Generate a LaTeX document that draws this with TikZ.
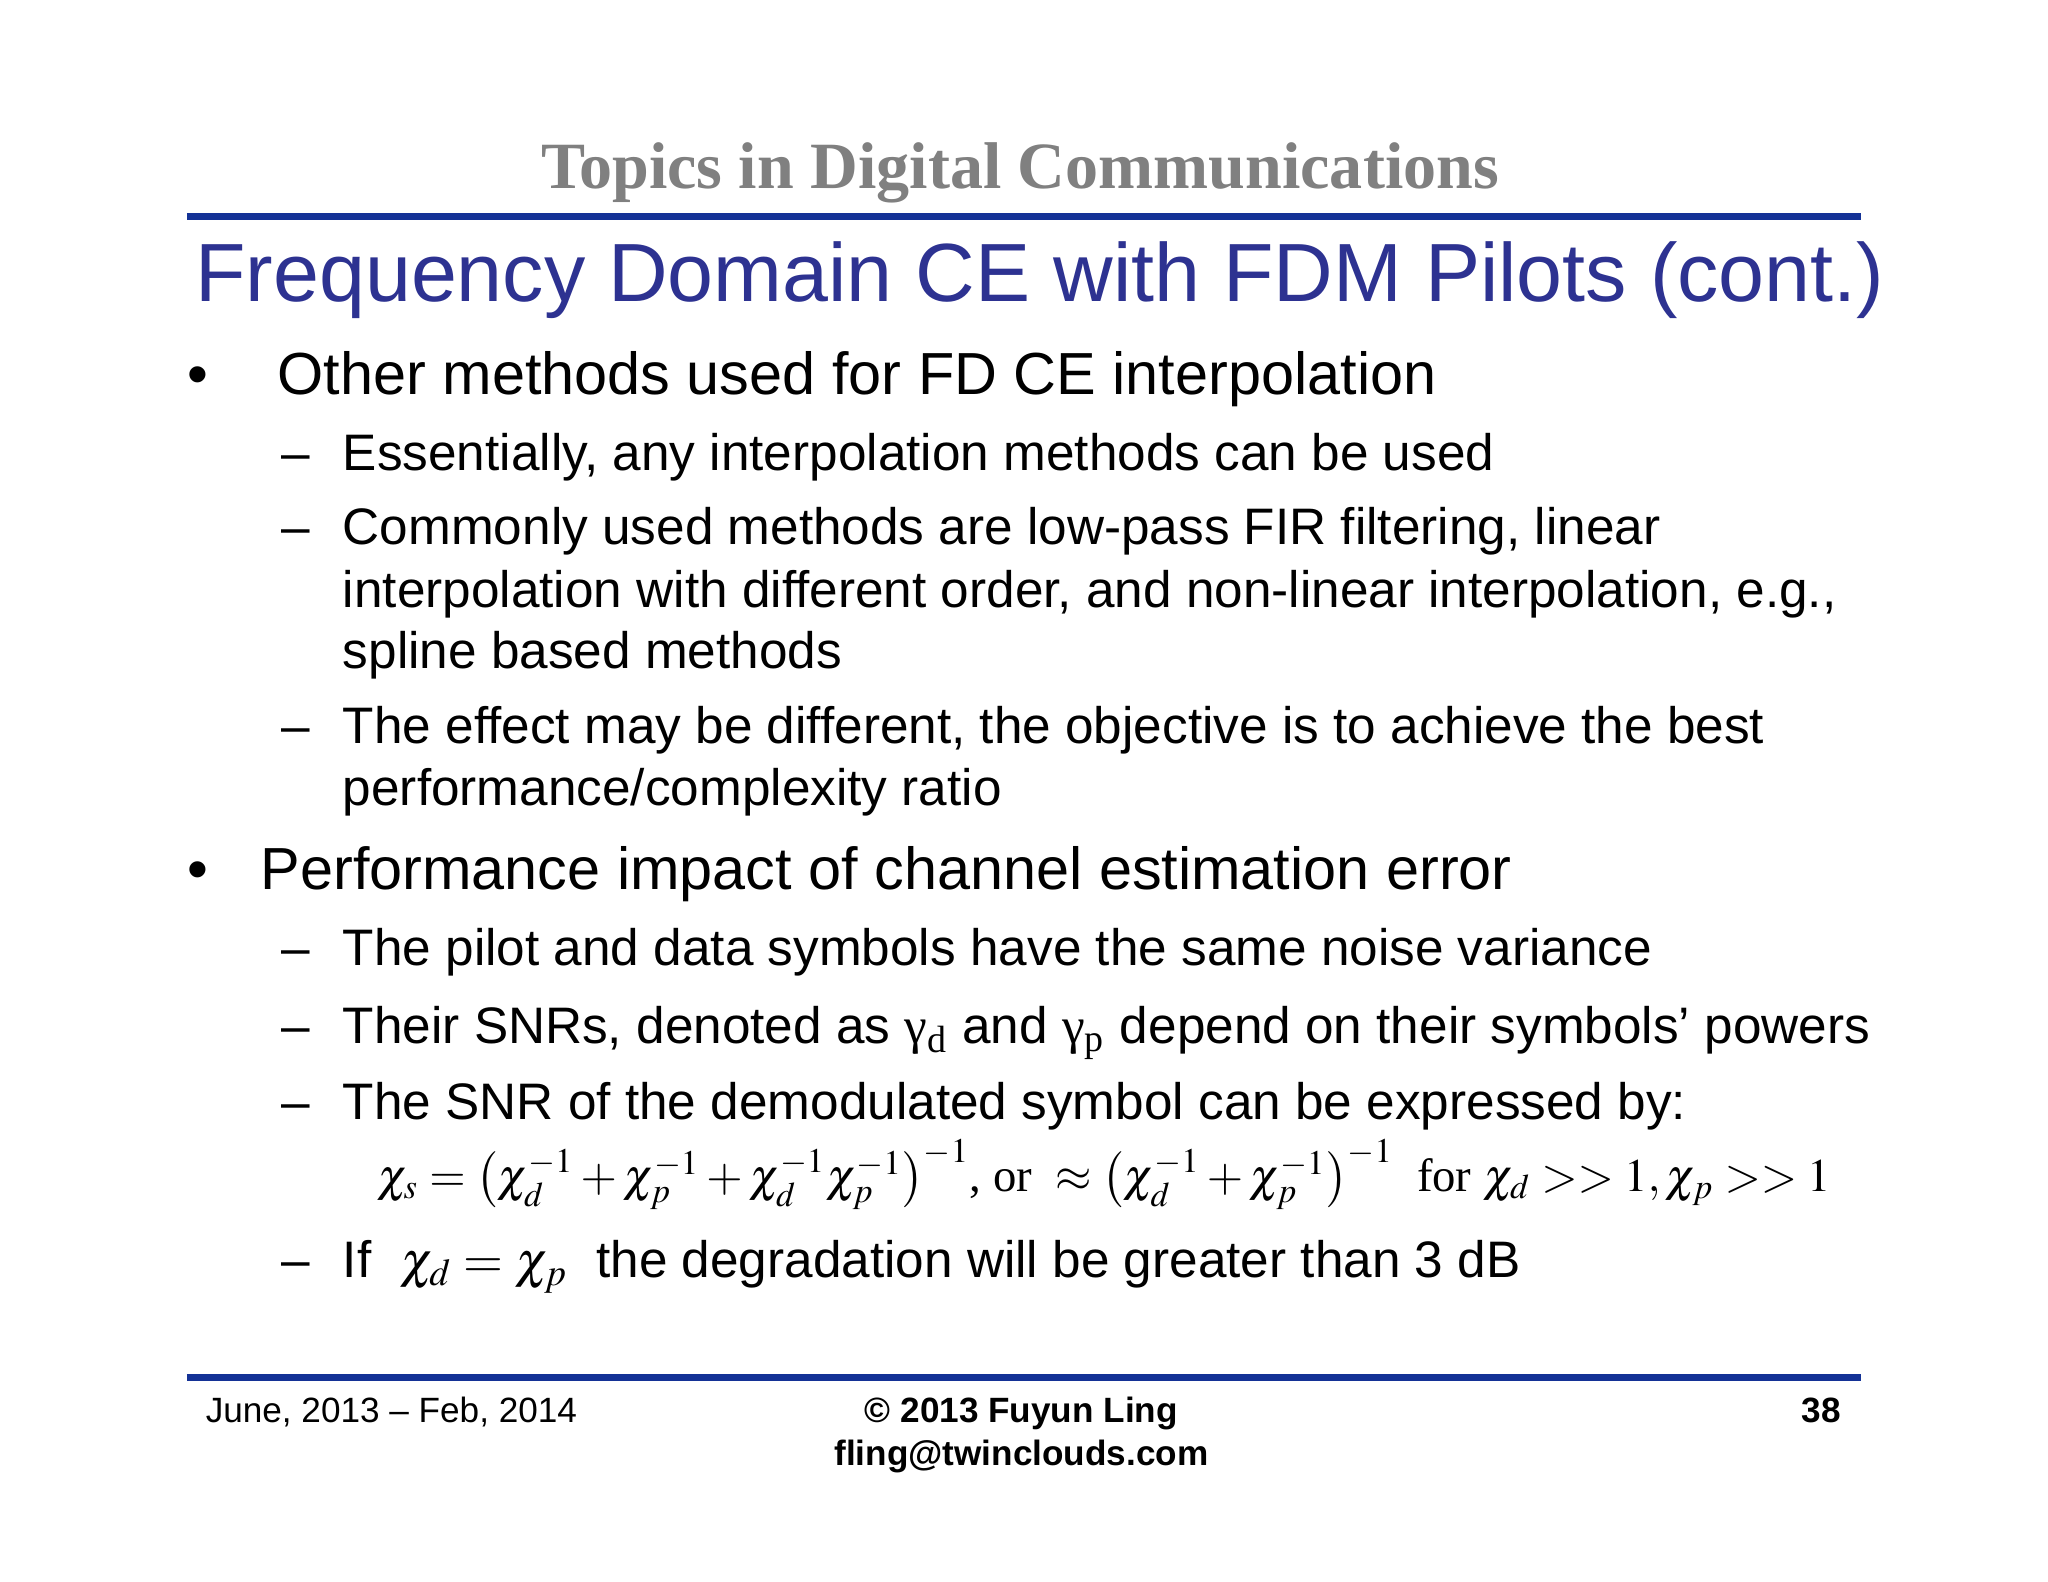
\documentclass[tikz,border=0pt]{standalone}
\usepackage{mathptmx}
\usepackage{fontspec}
\setmainfont{Liberation Sans}
\newfontfamily\serifh{Liberation Serif}
\definecolor{titleblue}{RGB}{45,50,145}
\definecolor{lineblue}{RGB}{20,50,150}
\definecolor{hgray}{RGB}{128,128,128}
\tikzset{
 lone/.style={anchor=base west,inner sep=0pt,font=\fontsize{16.9}{20}\selectfont},
 ltwo/.style={anchor=base west,inner sep=0pt,font=\fontsize{14.6}{17}\selectfont},
 foot/.style={inner sep=0pt,font=\fontsize{10}{12}\selectfont},
 rule/.style={lineblue,line width=2pt}
}
\begin{document}
\begin{tikzpicture}[x=0.01306cm,y=-0.01306cm]
\useasboundingbox[fill=white] (0,0) rectangle (1568,1211);
\node[inner sep=0pt,anchor=base,font=\serifh\bfseries\fontsize{18.8}{21}\selectfont,text=hgray] (hdr) at (781,144) {Topics in Digital Communications};
\coordinate (l1a) at (143,166); \coordinate (l1b) at (1425,166);
\draw[rule] (l1a) -- (l1b);
\node[anchor=base west,inner sep=0pt,font=\fontsize{23.5}{28}\selectfont,text=titleblue] (title) at (149,231) {Frequency Domain CE with FDM Pilots (cont.)};
\node[lone] (b1) at (143,302) {•};
\node[lone] (t1) at (212,302) {Other methods used for FD CE interpolation};
\node[ltwo] (d1) at (215,360) {–};
\node[ltwo] (s1) at (262,360) {Essentially, any interpolation methods can be used};
\node[ltwo] (d2) at (215,417) {–};
\node[ltwo] (s2) at (262,417) {Commonly used methods are low-pass FIR filtering, linear};
\node[ltwo] (s2b) at (262,465) {interpolation with different order, and non-linear interpolation, e.g.,};
\node[ltwo] (s2c) at (262,512) {spline based methods};
\node[ltwo] (d3) at (215,569) {–};
\node[ltwo] (s3) at (262,569) {The effect may be different, the objective is to achieve the best};
\node[ltwo] (s3b) at (262,617) {performance/complexity ratio};
\node[lone] (b2) at (143,681) {•};
\node[lone] (t2) at (199,681) {Performance impact of channel estimation error};
\node[ltwo] (d4) at (215,739) {–};
\node[ltwo] (s4) at (262,739) {The pilot and data symbols have the same noise variance};
\node[ltwo] (d5) at (215,799) {–};
\node[ltwo] (s5) at (262,799) {Their SNRs, denoted as {\serifh γ\textsubscript{d}} and {\serifh γ\textsubscript{p}} depend on their symbols’ powers};
\node[ltwo] (d6) at (215,857) {–};
\node[ltwo] (s6) at (262,857) {The SNR of the demodulated symbol can be expressed by:};
\node[anchor=base west,inner sep=0pt,font=\fontsize{13.3}{16}\selectfont] (eq) at (288,912)
 {$\chi_s=\left(\chi_d^{-1}+\chi_p^{-1}+\chi_d^{-1}\chi_p^{-1}\right)^{-1}$\serifh, or\ \ $\approx\left(\chi_d^{-1}+\chi_p^{-1}\right)^{-1}$\ \ for $\chi_d>>1,\chi_p>>1$};
\node[ltwo] (d7) at (215,978) {–};
\node[ltwo] (s7) at (262,978) {If \ $\chi_d=\chi_p$ \ the degradation will be greater than 3 dB};
\coordinate (l2a) at (143,1055); \coordinate (l2b) at (1425,1055);
\draw[rule] (l2a) -- (l2b);
\node[foot,anchor=base west] (f1) at (157,1089) {June, 2013 – Feb, 2014};
\node[foot,anchor=base,font=\bfseries\fontsize{10}{12}\selectfont] (f2) at (782,1089) {© 2013 Fuyun Ling};
\node[foot,anchor=base,font=\bfseries\fontsize{10}{12}\selectfont] (f3) at (782,1122) {fling@twinclouds.com};
\node[foot,anchor=base east,font=\bfseries\fontsize{10}{12}\selectfont] (f4) at (1410,1089) {38};
\end{tikzpicture}
\end{document}
